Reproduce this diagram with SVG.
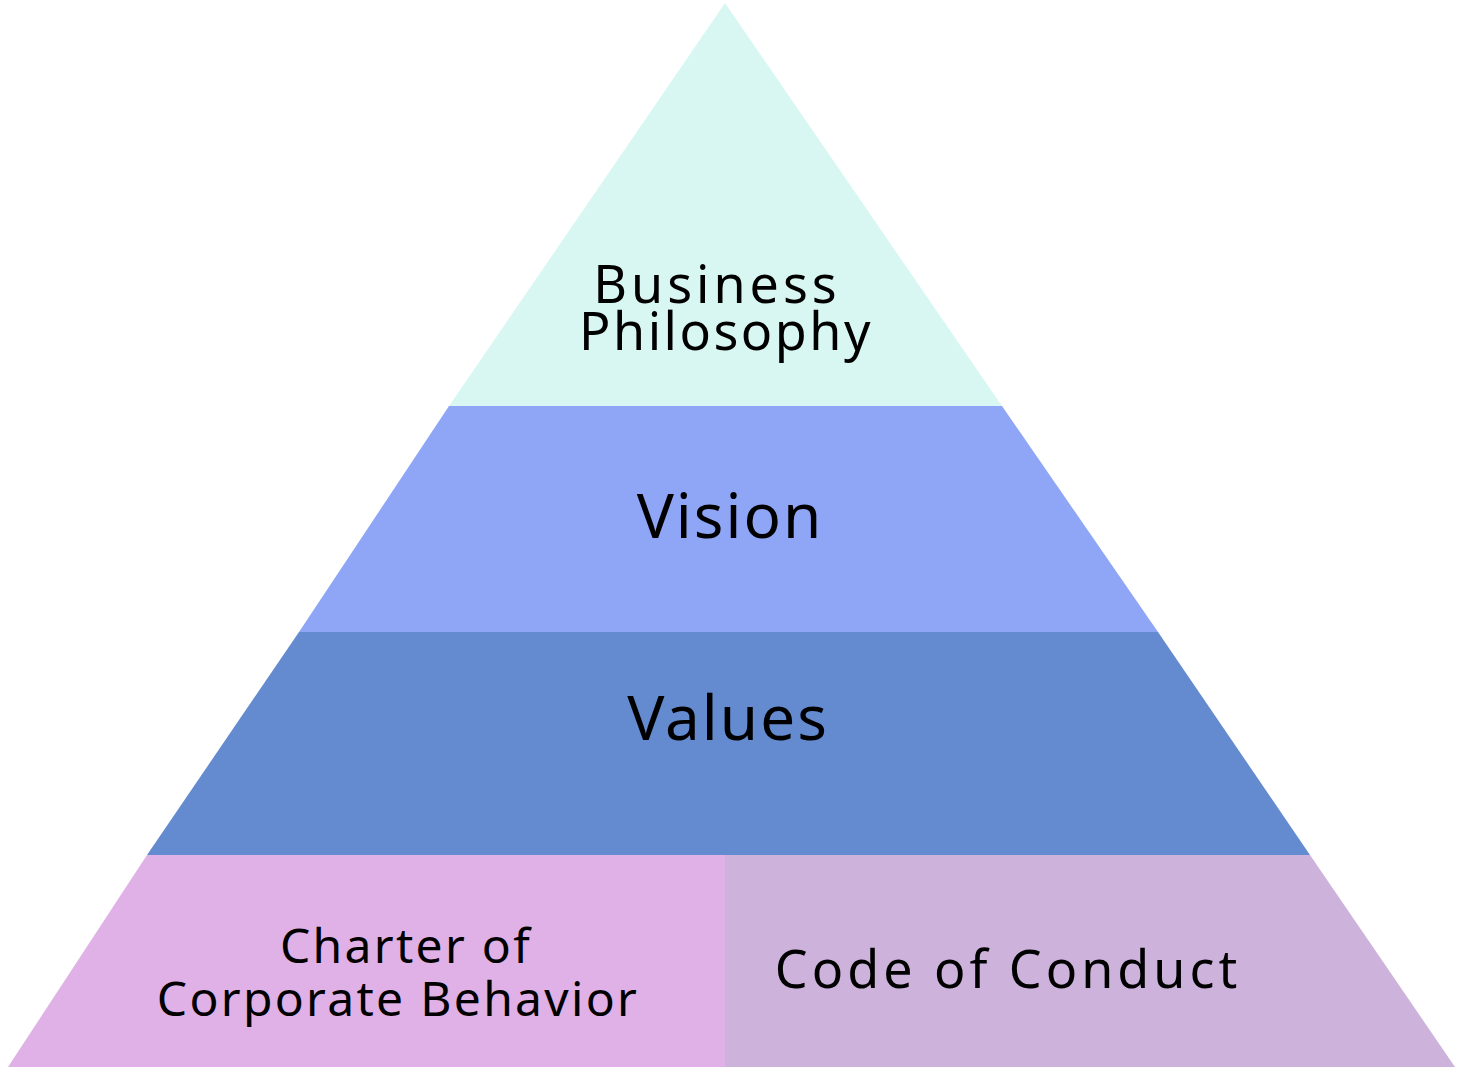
<svg xmlns="http://www.w3.org/2000/svg" width="1462" height="1070" viewBox="0 0 1462 1070">
<style>
text{font-family:"Noto Sans","DejaVu Sans",sans-serif;fill:#000;text-anchor:middle}
.m{font-size:52px;letter-spacing:4px}.l{font-size:62px;letter-spacing:2px}.s{font-size:48px;letter-spacing:2.3px}
</style>
<rect width="1462" height="1070" fill="#fff"/>
<g id="philosophy"><polygon points="725,3 1002,406 449,406" fill="#D9F7F2"/><text class="m" x="717" y="303">Business</text><text class="m" x="726" y="350" style="letter-spacing:2.5px">Philosophy</text></g>
<g id="vision"><polygon points="449,406 1002,406 1158,632 299,632" fill="#8FA6F7"/><text class="l" x="730" y="538">Vision</text></g>
<g id="values"><polygon points="299,632 1158,632 1310,855 147,855" fill="#648BD0"/><text class="l" x="728" y="740">Values</text></g>
<g id="charter"><polygon points="147,855 725,855 725,1067 8,1067" fill="#E0B1E6"/><text class="s" x="406" y="963">Charter of</text><text class="s" x="398" y="1016">Corporate Behavior</text></g>
<g id="code"><polygon points="725,855 1310,855 1455,1067 725,1067" fill="#CDB2DB"/><text class="m" x="1008" y="988">Code of Conduct</text></g>
<g id="connectors"/>
</svg>
